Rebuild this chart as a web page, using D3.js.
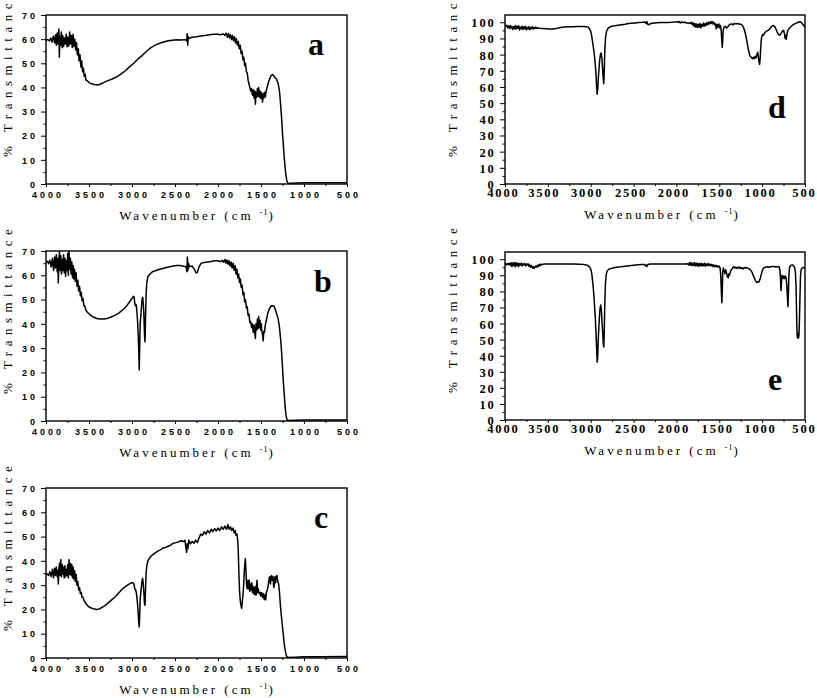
<!DOCTYPE html>
<html>
<head>
<meta charset="utf-8">
<script src="https://cdn.jsdelivr.net/npm/d3@7"></script>
<style>
  body { margin: 0; background: #fff; }
</style>
</head>
<body>
<div id="chart"></div>
<script>
// FTIR spectra, panels a-e (wavenumber cm-1, % transmittance)
const xTicks = [4000, 3500, 3000, 2500, 2000, 1500, 1000, 500];
const xMinorTicks = [3750, 3250, 2750, 2250, 1750, 1250, 750];
const yTicksLeft = [0, 10, 20, 30, 40, 50, 60, 70];
const yTicksRight = [0, 10, 20, 30, 40, 50, 60, 70, 80, 90, 100];

const specA = [[4000,59.5],[3980,59.8],[3960,59.3],[3945,60.5],[3930,58.8],[3915,61.2],[3900,58.5],[3890,61.8],[3880,57.5],[3870,62.5],[3860,58],[3850,64.2],[3845,52.5],[3838,61],[3830,57.5],[3822,63],[3812,56.5],[3805,61.5],[3795,57],[3785,60.5],[3775,58],[3765,62],[3755,56.8],[3745,60.8],[3735,57.2],[3725,63],[3715,58],[3705,61.5],[3695,56.5],[3685,62],[3675,57],[3665,60],[3655,55.5],[3645,58.5],[3635,53.5],[3625,56],[3615,51],[3605,53.5],[3595,48.5],[3585,51],[3575,46.5],[3565,48],[3555,44.5],[3545,45.5],[3535,43],[3520,42.8],[3500,42],[3470,41.5],[3440,41.2],[3400,41],[3370,41.3],[3330,42],[3280,42.8],[3230,43.5],[3180,44.3],[3130,45.5],[3080,46.8],[3030,48.5],[2980,50],[2930,51.8],[2880,53.3],[2830,55],[2780,56.5],[2730,57.5],[2680,58.3],[2630,58.8],[2580,59.3],[2530,59.5],[2480,59.7],[2430,59.6],[2380,59.8],[2365,59.2],[2358,62.2],[2352,57.5],[2345,61],[2335,60.3],[2300,60.8],[2250,61],[2200,61.3],[2150,61.5],[2100,61.8],[2050,62],[2000,62],[1970,61.8],[1940,62.2],[1920,61.5],[1905,62.5],[1890,60.8],[1878,62.3],[1866,60.5],[1855,61.8],[1843,59.8],[1832,61.5],[1820,59.3],[1808,61],[1797,58.5],[1786,60.2],[1775,57.5],[1764,59],[1753,56],[1742,57.5],[1731,54],[1720,55],[1710,51.5],[1700,52.5],[1690,49],[1680,50],[1670,46.5],[1660,46],[1650,43],[1640,41.5],[1630,40],[1620,38.5],[1610,39.5],[1600,36.8],[1590,39],[1580,35.5],[1572,38.5],[1565,33],[1558,38],[1550,36],[1542,39.5],[1535,36.5],[1527,40],[1520,36],[1512,38.5],[1505,35.5],[1497,38],[1490,36.5],[1482,34],[1475,37.5],[1467,35.5],[1460,38],[1450,36],[1440,38.5],[1425,40.5],[1410,42.5],[1395,44],[1380,45],[1365,45.3],[1350,44.8],[1335,44],[1320,43.5],[1300,41.5],[1285,38.5],[1270,32],[1260,27],[1250,21],[1240,16],[1230,11],[1220,7],[1210,3.5],[1200,1.5],[1190,0.5],[1180,0.2],[1150,0.3],[1000,0.5],[800,0.5],[500,0.5]];

const specB = [[4000,65.5],[3985,65.8],[3970,64.8],[3955,66.2],[3940,63.5],[3925,67],[3912,62],[3900,67.5],[3890,63],[3880,68.5],[3870,61.5],[3862,67],[3857,56.8],[3850,66],[3843,70],[3836,62],[3828,68],[3820,60.5],[3812,66.5],[3804,62],[3796,68.5],[3788,61],[3780,67],[3772,59.5],[3764,66],[3756,62],[3748,69],[3740,60],[3732,70],[3724,62.5],[3716,67],[3708,60.5],[3700,65.5],[3692,59],[3684,64],[3676,58.5],[3668,62.5],[3660,57.5],[3650,61],[3640,55.5],[3630,58],[3620,53.5],[3610,55.5],[3600,51.5],[3590,53],[3580,49.5],[3570,50.5],[3560,47.5],[3550,47.5],[3535,45.5],[3510,44.5],[3480,43.5],[3450,42.8],[3410,42.2],[3370,42],[3330,42],[3290,42.2],[3250,42.7],[3200,43.5],[3150,44.5],[3100,46],[3060,47.5],[3030,49],[3000,50.5],[2985,51.3],[2975,51],[2968,48.5],[2960,47.5],[2950,47.8],[2943,45],[2935,41],[2927,35],[2921,28],[2916,21],[2911,30],[2905,40],[2898,43],[2890,47],[2883,50],[2876,51],[2869,48.5],[2862,44],[2855,36],[2849,32.6],[2843,42],[2836,52],[2828,57],[2815,59.5],[2790,60.5],[2760,61.5],[2720,62],[2680,62.5],[2640,62.8],[2600,63.2],[2560,63.5],[2520,63.8],[2480,64],[2440,64],[2400,63.7],[2370,63.5],[2362,61.5],[2356,67.5],[2350,62],[2344,65],[2330,63.5],[2300,63.8],[2275,62.5],[2255,61],[2240,61.2],[2220,63.5],[2195,65],[2160,65.3],[2120,65.5],[2080,65.7],[2040,66],[2000,66],[1970,65.6],[1950,66.2],[1935,65.4],[1920,66.5],[1908,65],[1896,66.3],[1884,64.5],[1872,66],[1860,63.8],[1848,65.5],[1836,63],[1824,65],[1812,62],[1800,64],[1790,60.5],[1780,62.5],[1770,59],[1760,60.5],[1750,57],[1740,58.5],[1730,55],[1720,56],[1710,52],[1700,53],[1690,49],[1680,50],[1670,46.5],[1660,47],[1650,43.5],[1640,44],[1630,40.5],[1620,41],[1610,38.5],[1600,40],[1590,36.5],[1580,39.5],[1572,36],[1565,34],[1558,40],[1550,37.5],[1542,42],[1535,38],[1527,43],[1520,38.5],[1512,41.5],[1505,37.5],[1497,40],[1490,37],[1483,36],[1475,33],[1467,37],[1460,36.5],[1450,39.5],[1435,42],[1420,44.5],[1405,46],[1390,47],[1375,47.5],[1360,47.5],[1345,47],[1330,45.5],[1315,43.8],[1300,42],[1285,38.5],[1270,33],[1260,28],[1250,22],[1240,16],[1230,11],[1220,6],[1210,2.5],[1200,0.8],[1190,0.2],[1100,0.3],[1000,0.4],[800,0.4],[500,0.4]];

const specC = [[4000,34.3],[3985,34.6],[3970,34],[3955,35.5],[3940,33.5],[3925,36.5],[3912,33],[3900,37],[3890,34],[3880,37.5],[3870,33.5],[3862,36],[3857,30.5],[3850,36.5],[3843,39],[3836,34],[3828,40.5],[3820,33.5],[3812,38.5],[3804,34.5],[3796,37.5],[3788,33],[3780,38],[3772,33.5],[3764,36.5],[3756,34],[3748,38.5],[3740,33],[3732,40.5],[3724,34.5],[3716,39],[3708,34],[3700,38.5],[3692,33],[3684,37.5],[3676,32.5],[3668,36],[3660,31.5],[3650,34.5],[3640,30],[3630,31.5],[3620,28],[3610,29],[3600,26.5],[3590,27],[3580,25],[3570,25],[3555,23.5],[3535,22.3],[3510,21.3],[3480,20.7],[3450,20.3],[3410,20],[3380,20.2],[3340,21],[3300,22],[3250,23.5],[3200,25],[3150,27],[3100,28.8],[3060,29.8],[3030,30.5],[3000,31],[2985,31],[2975,30],[2968,28.5],[2960,28.3],[2950,27],[2943,25],[2935,22],[2927,18],[2921,14.5],[2916,12.8],[2911,17],[2905,24],[2898,27],[2890,29.5],[2883,32],[2876,32.8],[2869,30.5],[2862,27],[2855,22.5],[2849,21.7],[2843,28],[2836,35],[2828,38],[2815,40],[2790,41.5],[2760,42.5],[2730,43.3],[2700,44],[2670,44.5],[2640,45.3],[2610,45.5],[2580,46],[2550,46.5],[2520,47.3],[2490,47.5],[2460,47.8],[2430,48.3],[2400,48],[2385,48.5],[2375,46],[2365,43.5],[2358,47],[2350,45],[2340,48.5],[2320,47],[2300,48],[2280,47.2],[2260,48.5],[2240,47.5],[2220,49.5],[2200,51],[2180,50.5],[2160,52],[2140,51],[2120,52.5],[2100,51.5],[2080,53],[2060,52],[2040,53.3],[2020,52.3],[2000,53.5],[1980,52.5],[1960,54],[1940,53],[1920,54.3],[1900,53],[1885,55],[1870,53],[1855,54],[1840,52.5],[1825,53.5],[1812,51.5],[1800,52.5],[1790,50.5],[1780,51],[1772,49],[1765,45],[1758,36],[1750,28],[1742,24],[1735,22],[1725,20.5],[1715,24],[1705,28],[1698,33],[1690,38],[1682,41],[1675,36],[1668,30],[1660,28.5],[1652,32],[1645,28.5],[1637,32],[1630,27.5],[1622,30.5],[1615,28],[1607,31],[1600,27],[1592,29.5],[1585,26.5],[1577,29],[1570,26],[1562,29.5],[1555,26],[1547,32],[1540,27],[1532,28.5],[1522,26.5],[1512,27],[1502,25.5],[1492,27],[1482,25],[1472,26.5],[1462,24],[1452,26],[1445,24],[1437,27],[1428,28],[1420,29],[1412,31],[1405,33],[1398,33.5],[1390,30.5],[1383,33],[1376,34],[1368,32],[1360,33.5],[1352,29],[1345,30],[1338,33.5],[1330,31],[1322,33.5],[1315,34],[1305,31.5],[1295,30.5],[1285,27],[1275,22],[1265,18],[1255,14.5],[1245,11],[1235,7.5],[1225,4.5],[1215,2.5],[1205,1],[1195,0.4],[1180,0.2],[1100,0.3],[1000,0.5],[800,0.5],[500,0.6]];

const specD = [[4000,98.3],[3990,97.5],[3980,98.2],[3970,96.8],[3960,97.8],[3950,96.2],[3940,98],[3930,96.5],[3920,97.5],[3910,95.5],[3900,97.2],[3890,96],[3880,98],[3870,95.8],[3860,97.6],[3850,96.3],[3840,97.8],[3830,95.2],[3820,97],[3810,96],[3800,97.5],[3790,95.5],[3780,97.3],[3770,96],[3760,97.6],[3750,95.3],[3740,96.8],[3730,95.8],[3720,97.4],[3710,95.5],[3700,96.8],[3690,96],[3680,97.2],[3670,95.8],[3660,96.8],[3650,96.2],[3640,97],[3630,96.2],[3620,96.6],[3600,96.3],[3560,96.2],[3520,96],[3480,95.8],[3440,95.8],[3400,96.2],[3360,96.8],[3320,97],[3280,97.2],[3240,97.3],[3200,97.3],[3160,97.4],[3120,97.4],[3080,97.4],[3050,97.3],[3030,97],[3015,96],[3000,94.5],[2990,92],[2980,88.5],[2970,85],[2960,81],[2950,76],[2940,69],[2932,61],[2925,55.5],[2918,59],[2911,66],[2905,70],[2895,77],[2885,80.5],[2878,81],[2870,78],[2862,72],[2855,66],[2848,62],[2842,70],[2836,82],[2828,90],[2815,94.5],[2795,96.5],[2760,97.5],[2720,97.8],[2680,98.2],[2640,98.5],[2600,98.8],[2560,99.2],[2520,99.4],[2480,99.6],[2440,99.8],[2400,100],[2370,100.2],[2355,99.3],[2345,100.5],[2335,98.8],[2320,98.5],[2300,99.2],[2260,99.6],[2220,99.7],[2180,99.8],[2140,99.8],[2100,99.9],[2060,100],[2020,100.2],[2000,100.4],[1985,100],[1970,100.5],[1955,99.6],[1940,100.2],[1920,99.8],[1900,100],[1880,99.5],[1860,99.6],[1840,99.3],[1825,100],[1815,98.5],[1805,99.6],[1795,97.5],[1785,99.3],[1775,97],[1765,99],[1755,96.8],[1745,98.8],[1735,97],[1725,99.2],[1715,96.5],[1705,98.6],[1695,97.5],[1685,99.5],[1675,97.5],[1665,99.2],[1655,98],[1645,99.8],[1635,98.5],[1625,100],[1615,99],[1605,100.3],[1595,99.2],[1585,100.5],[1575,99],[1565,100],[1555,98.5],[1545,99],[1535,96],[1525,98.8],[1515,97],[1505,99],[1495,96.5],[1485,98],[1478,95],[1470,88],[1465,84.5],[1460,89],[1455,95],[1445,97],[1430,97.5],[1415,96.5],[1400,97.2],[1385,98.3],[1370,98.8],[1355,99],[1340,98.4],[1325,99.2],[1310,99],[1290,99.2],[1270,99],[1250,98.8],[1230,98],[1215,96.5],[1200,94],[1190,91.5],[1180,89],[1170,86],[1160,83],[1150,80.5],[1140,79],[1130,78.5],[1120,78],[1110,77.5],[1100,78.5],[1090,77.5],[1080,79],[1070,78],[1060,80],[1052,81.5],[1045,79],[1038,76],[1030,74],[1024,77],[1018,83],[1012,88],[1005,91],[995,92.5],[985,92],[970,93.5],[950,94.5],[930,95],[910,96],[890,97.5],[870,98],[855,97.5],[840,96],[825,94],[810,92.5],[795,92],[780,93],[765,94.5],[750,95],[740,93],[732,90],[725,92],[718,89.5],[710,93],[700,95],[680,96.5],[660,97.5],[640,98.5],[620,99],[600,99.5],[580,100],[560,100.3],[545,100],[530,99],[515,98],[500,97]];

const specE = [[4000,96.9],[3990,97.2],[3980,96.5],[3970,97.3],[3960,96.8],[3950,97.5],[3940,96.2],[3930,97.8],[3920,95.5],[3910,97.6],[3900,96],[3890,98],[3880,95.3],[3870,97.8],[3860,96],[3850,97.5],[3840,95.5],[3830,97.3],[3820,96.3],[3810,97.6],[3800,95.8],[3790,97.2],[3780,96.5],[3770,97.4],[3760,95.8],[3750,97],[3740,96.5],[3730,97.2],[3720,95.5],[3710,96.5],[3700,95],[3690,96],[3680,94.5],[3670,95.5],[3660,94.3],[3650,95],[3640,95.8],[3630,95],[3620,96.3],[3610,95.5],[3600,96.8],[3590,96],[3580,97],[3570,96.5],[3550,97],[3500,97],[3400,97],[3300,97],[3200,97],[3130,96.9],[3080,96.7],[3040,96.3],[3010,95],[2995,93],[2985,90],[2975,85],[2965,79],[2955,71],[2945,62],[2937,52],[2930,43],[2924,36],[2918,40],[2912,50],[2905,58],[2897,65],[2890,70],[2882,71.5],[2875,68],[2868,61],[2860,54],[2853,47],[2847,45.4],[2842,55],[2836,72],[2828,85],[2818,91],[2805,93],[2780,94],[2740,94.5],[2700,95],[2650,95.3],[2600,95.7],[2550,96],[2500,96.3],[2450,96.5],[2400,96.7],[2370,96.8],[2360,95.8],[2352,96.2],[2345,95.5],[2335,96.7],[2300,97],[2200,97],[2100,97],[2000,97],[1950,97],[1900,97],[1870,97.2],[1860,96.5],[1850,97.8],[1840,96.3],[1830,98],[1820,96],[1810,97.5],[1800,96.2],[1790,98],[1780,95.8],[1770,97.6],[1760,96],[1750,97.5],[1740,95.5],[1730,97.3],[1720,96],[1710,97.5],[1700,95.8],[1690,97.2],[1680,96],[1670,97.5],[1660,95.6],[1650,97],[1640,96.2],[1630,97.3],[1620,96],[1610,97],[1600,96],[1590,96.8],[1580,95.5],[1570,96.5],[1560,95.3],[1550,96.3],[1540,95.5],[1530,96],[1520,95],[1510,95.8],[1500,95.5],[1490,94.5],[1483,90],[1476,80],[1470,73],[1465,80],[1460,92],[1453,94.5],[1445,93],[1435,91],[1425,93.5],[1415,91.5],[1405,89],[1395,88.5],[1388,91],[1380,90],[1370,92.5],[1360,93.5],[1350,94],[1340,95],[1330,95.3],[1320,94.5],[1310,95],[1300,94.3],[1290,95],[1280,94.5],[1270,95.2],[1260,94.3],[1250,94.8],[1240,94.2],[1230,94.6],[1220,94],[1210,94.8],[1200,94.5],[1190,94.8],[1170,94.5],[1150,94],[1130,93],[1115,91.5],[1100,89.5],[1085,87.5],[1070,86],[1060,85.5],[1050,86],[1040,85.8],[1030,86.8],[1020,88.5],[1010,90.5],[1000,92.5],[990,94],[975,94.8],[960,95],[940,95.3],[920,95],[900,95.3],[880,95.5],[860,95.5],[840,95.2],[820,95.5],[800,95],[792,93],[786,88],[780,80.5],[774,86],[768,90],[760,89],[752,88],[745,89.5],[738,88],[728,89.5],[720,88],[712,84],[705,76],[699,70.5],[694,78],[688,90],[680,95],[668,96.2],[650,96.5],[635,96],[622,95],[612,92],[605,84],[600,72],[596,60],[592,53],[588,51],[584,54],[580,51.5],[575,51],[570,53],[565,62],[558,78],[552,90],[545,93.5],[535,94.5],[520,95],[510,94.5],[500,94]];

const width = 817, height = 698;

const svg = d3.select("#chart")
    .append("svg")
    .attr("width", width)
    .attr("height", height)
    .style("background", "#fff");

// left column uses bold sans tick labels, right column bold serif
const looks = {
    left:  {font: "'Liberation Sans', Arial, sans-serif", size: 9, ls: 3, yPad: -8, xBase: 14,
            titleX: -34, titleDx: 1, titleY: 35.5, yMax: 70, yTicks: yTicksLeft,
            xShift: [0, 0, 0, 0, 0, 0, 0, 0]},
    right: {font: "'Liberation Serif', 'Times New Roman', serif", size: 12.5, ls: 1.8, yPad: -9.5, xBase: 13,
            titleX: -48, titleDx: 7.5, titleY: 34.5, yMax: 104.5, yTicks: yTicksRight,
            xShift: [-3, -5, -5, -4, -4, -3, -3, -2]}
};

const panels = [
    {label: "a", data: specA, left: 46,  top: 15,  w: 301, h: 169, look: "left",  lx: -31, ly: 40},
    {label: "b", data: specB, left: 46,  top: 251, w: 301, h: 170, look: "left",  lx: -24, ly: 41},
    {label: "c", data: specC, left: 46,  top: 488, w: 301, h: 170, look: "left",  lx: -26, ly: 40},
    {label: "d", data: specD, left: 505, top: 15,  w: 300, h: 169, look: "right", lx: -28, ly: 103},
    {label: "e", data: specE, left: 505, top: 252, w: 300, h: 168, look: "right", lx: -30, ly: 138}
];

panels.forEach(function(p, i) {
    let lk = looks[p.look];
    let g = svg.append("g").attr("transform", `translate(${p.left},${p.top})`);

    let x = d3.scaleLinear().domain([4000, 500]).range([0, p.w]);
    let y = d3.scaleLinear().domain([0, lk.yMax]).range([p.h, 0]);

    g.append("clipPath").attr("id", "clip" + i)
        .append("rect").attr("width", p.w).attr("height", p.h);

    // spectrum
    let line = d3.line().x(d => x(d[0])).y(d => y(d[1]));
    g.append("path")
        .datum(p.data)
        .attr("clip-path", `url(#clip${i})`)
        .attr("fill", "none")
        .attr("stroke", "#000")
        .attr("stroke-width", 1.5)
        .attr("stroke-linejoin", "round")
        .attr("d", line);

    // minor ticks
    g.append("g").attr("transform", `translate(0,${p.h})`)
        .call(d3.axisBottom(x).tickValues(xMinorTicks).tickSize(2).tickFormat(""))
        .call(a => a.select(".domain").remove());
    g.append("g")
        .call(d3.axisLeft(y).tickValues(lk.yTicks.slice(0, -1).map(v => v + 5)).tickSize(2.5).tickFormat(""))
        .call(a => a.select(".domain").remove());

    // major ticks + labels
    let xa = g.append("g").attr("transform", `translate(0,${p.h})`)
        .call(d3.axisBottom(x).tickValues(xTicks).tickSize(3).tickFormat(d3.format("d")));
    xa.select(".domain").remove();
    xa.selectAll("text")
        .attr("y", lk.xBase).attr("dy", null)
        .attr("dx", (d, j) => lk.xShift[j] + lk.ls / 2);

    let ya = g.append("g")
        .call(d3.axisLeft(y).tickValues(lk.yTicks).tickSize(5).tickFormat(d3.format("d")));
    ya.select(".domain").remove();
    ya.selectAll("text").attr("x", lk.yPad).attr("dy", "0.36em");

    [xa, ya].forEach(function(a) {
        a.selectAll("line").attr("stroke", "#000");
        a.selectAll("text")
            .attr("fill", "#000")
            .style("font-family", lk.font)
            .style("font-weight", "bold")
            .style("font-size", lk.size + "px")
            .style("letter-spacing", lk.ls + "px");
    });

    // frame
    g.append("rect")
        .attr("width", p.w).attr("height", p.h)
        .attr("fill", "none").attr("stroke", "#000").attr("stroke-width", 1.4);

    // axis titles
    g.append("text")
        .attr("transform", `translate(${lk.titleX},${p.h - 27}) rotate(-90)`)
        .style("text-anchor", "start")
        .style("font-family", "'Liberation Serif', 'Times New Roman', serif")
        .style("font-size", "13px")
        .style("letter-spacing", "5.5px")
        .text("% Transmittance");

    let xt = g.append("text")
        .attr("x", p.w / 2 + lk.titleDx)
        .attr("y", p.h + lk.titleY)
        .style("text-anchor", "middle")
        .style("font-family", "'Liberation Serif', 'Times New Roman', serif")
        .style("font-size", "13px")
        .style("letter-spacing", "3px");
    xt.append("tspan").text("Wavenumber (cm ");
    xt.append("tspan").attr("dy", -5).style("font-size", "8px").style("letter-spacing", "1px").text("-1");
    xt.append("tspan").attr("dy", 5).text(")");

    // panel letter
    g.append("text")
        .attr("x", p.w + p.lx)
        .attr("y", p.ly)
        .style("text-anchor", "middle")
        .style("font-family", "'Liberation Serif', 'Times New Roman', serif")
        .style("font-weight", "bold")
        .style("font-size", "32px")
        .text(p.label);
});
</script>
</body>
</html>
